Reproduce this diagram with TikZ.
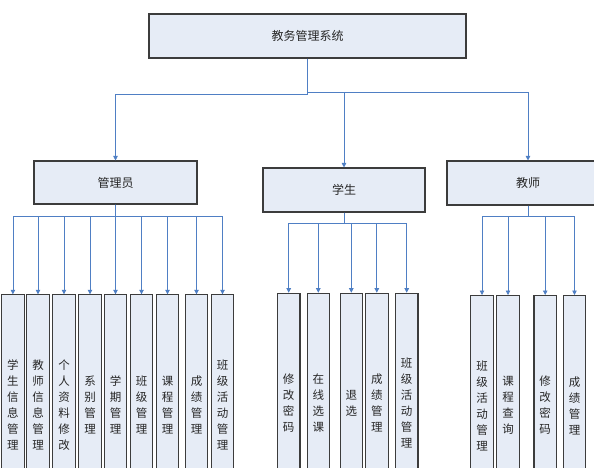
\documentclass[tikz,border=0pt]{standalone}
\usepackage{fontspec}
\newfontfamily\cjk{Noto Sans CJK SC}
\usetikzlibrary{arrows.meta}
\definecolor{boxfill}{HTML}{E6ECF6}
\definecolor{boxline}{HTML}{3C3C3C}
\definecolor{linkblue}{HTML}{4F7FC4}
\tikzset{
  topbox/.style={draw=boxline, line width=1.1pt, fill=boxfill, inner sep=0pt,
    font=\cjk\fontsize{12}{14}\selectfont, text=black!85},
  leaf/.style={draw=boxline, line width=1.1pt, fill=boxfill, inner sep=0pt,
    minimum width=22.5pt, minimum height=220pt, anchor=north, align=center,
    font=\cjk\fontsize{11.5}{16}\selectfont, text=black!85},
  conn/.style={draw=linkblue, line width=0.8pt, -{Triangle[width=4.5pt,length=4.5pt]}}
}
\begin{document}
\begin{tikzpicture}[x=1pt,y=-1pt]
\useasboundingbox (0,0) rectangle (594,467);
\clip (0,0) rectangle (594,467);
\fill[white] (0,0) rectangle (594,467);
% top level
\node[topbox, minimum width=317pt, minimum height=44pt] (sys) at (307.5,36) {教务管理系统};
\node[topbox, minimum width=163pt, minimum height=43pt] (mgr) at (115.5,182.5) {管理员};
\node[topbox, minimum width=162pt, minimum height=44pt] (stu) at (344,190) {学生};
\node[topbox, minimum width=162pt, minimum height=44pt] (tea) at (528,183) {教师};
\draw[conn] (sys.south) -- ++(0,36) -| (mgr.north);
\draw[conn] (sys.south) -- ++(0,34) -| (stu.north);
\draw[conn] (sys.south) -- ++(0,34) -| (tea.north);
% manager leaves
\node[leaf] (m1) at (12.9,294.3) {学\\生\\信\\息\\管\\理};
\node[leaf] (m2) at (38,294.3) {教\\师\\信\\息\\管\\理};
\node[leaf] (m3) at (64,294.3) {个\\人\\资\\料\\修\\改};
\node[leaf] (m4) at (90,294.3) {系\\别\\管\\理};
\node[leaf] (m5) at (115.5,294.3) {学\\期\\管\\理};
\node[leaf] (m6) at (141.5,294.3) {班\\级\\管\\理};
\node[leaf] (m7) at (167.5,294.3) {课\\程\\管\\理};
\node[leaf] (m8) at (196.5,294.3) {成\\绩\\管\\理};
\node[leaf] (m9) at (222.5,294.3) {班\\级\\活\\动\\管\\理};
\foreach \n in {m1,m2,m3,m4,m5,m6,m7,m8,m9}
  \draw[conn] (mgr.south) -- ++(0,12) -| (\n.north);
% student leaves
\node[leaf] (s1) at (288.7,292.7) {修\\改\\密\\码};
\node[leaf] (s2) at (318.3,292.7) {在\\线\\选\\课};
\node[leaf] (s3) at (351.3,292.7) {退\\选};
\node[leaf] (s4) at (376.8,292.7) {成\\绩\\管\\理};
\node[leaf] (s5) at (406.7,292.7) {班\\级\\活\\动\\管\\理};
\foreach \n in {s1,s2,s3,s4,s5}
  \draw[conn] (stu.south) -- ++(0,11) -| (\n.north);
% teacher leaves
\node[leaf] (t1) at (482,295) {班\\级\\活\\动\\管\\理};
\node[leaf] (t2) at (508,295) {课\\程\\查\\询};
\node[leaf] (t3) at (545.2,295) {修\\改\\密\\码};
\node[leaf] (t4) at (574.5,295) {成\\绩\\管\\理};
\foreach \n in {t1,t2,t3,t4}
  \draw[conn] (tea.south) -- ++(0,11) -| (\n.north);
\end{tikzpicture}
\end{document}
